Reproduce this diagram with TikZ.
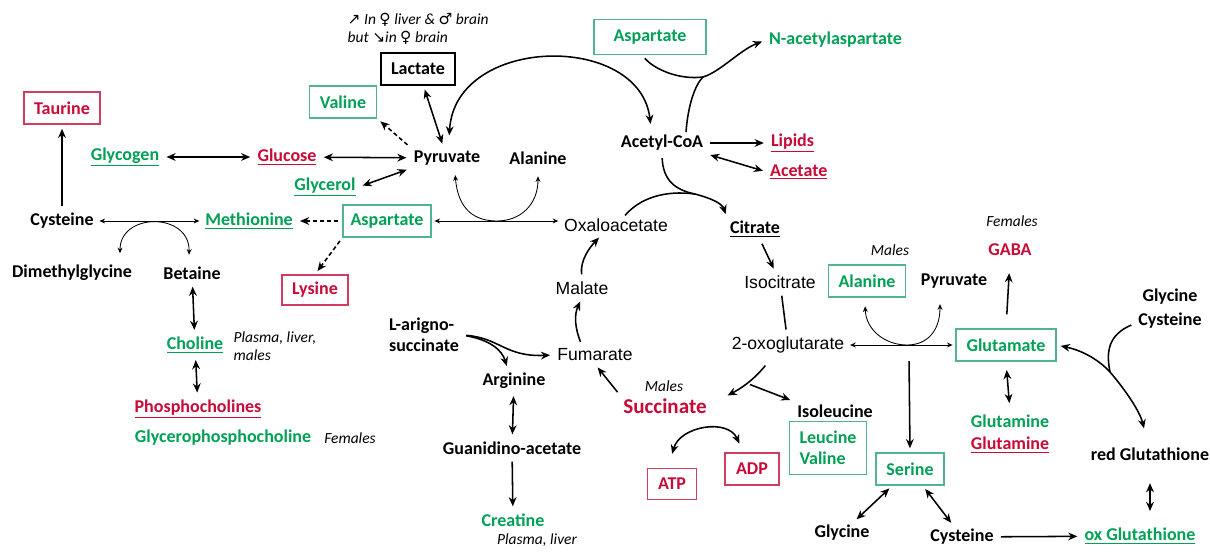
\documentclass[tikz,border=0pt]{standalone}
\usepackage{fontspec}
\setmainfont{Carlito}
\newfontfamily\arialf{Liberation Sans}
\newfontfamily\symf{DejaVu Sans}
\usetikzlibrary{arrows.meta,calc}

\definecolor{metgreen}{RGB}{0,160,85}
\definecolor{metred}{RGB}{200,10,55}
\definecolor{boxgreen}{RGB}{80,180,145}
\definecolor{boxred}{RGB}{210,60,95}

\tikzset{
    met/.style={font=\fontsize{12.8}{15}\selectfont\bfseries, inner sep=2pt},
    grn/.style={met, text=metgreen},
    rd/.style={met, text=metred},
    tca/.style={font=\arialf\fontsize{12.5}{14}\selectfont, inner sep=2pt},
    note/.style={font=\fontsize{11}{13}\selectfont\itshape, inner sep=1pt},
    gbox/.style={grn, draw=boxgreen, line width=0.8pt, minimum height=0.8cm},
    rbox/.style={rd, draw=boxred, line width=0.8pt, minimum height=0.8cm},
    flow/.style={line width=1.1pt, -{Stealth[length=6.5pt,width=5.5pt]}, shorten >=3pt, shorten <=3pt},
    dbl/.style={line width=1.1pt, {Stealth[length=6.5pt,width=5.5pt]}-{Stealth[length=6.5pt,width=5.5pt]}, shorten >=3pt, shorten <=3pt},
    fine/.style={line width=0.6pt, {Stealth[length=4pt,width=3.5pt]}-{Stealth[length=4pt,width=3.5pt]}, shorten >=2pt, shorten <=2pt},
    dflow/.style={flow, dash pattern=on 3pt off 2pt},
    link/.style={line width=1.1pt}
}

\begin{document}
\begin{tikzpicture}[x=0.025cm,y=-0.025cm]
    \useasboundingbox (0,0) rectangle (1210,552);

    % Left side
    \node[note, align=left, anchor=west] (sexnote) at (346,29) {{\symf ↗} In {\symf ♀} liver \& {\symf ♂} brain\\but {\symf ↘}in {\symf ♀} brain};
    \node[met, draw, line width=0.8pt, minimum width=1.85cm, minimum height=0.8cm] (lact) at (418,69) {Lactate};
    \node[gbox, minimum width=1.68cm] (val) at (343,102) {Valine};
    \node[rbox, minimum width=1.9cm] (taur) at (62,108) {Taurine};
    \node[grn] (glyc) at (125,157) {\underline{Glycogen}};
    \node[rd] (gluc) at (287,157) {\underline{Glucose}};
    \node[met] (pyr) at (447,158) {Pyruvate};
    \node[met] (ala) at (538,158) {Alanine};
    \node[grn] (glyl) at (325,187) {\underline{Glycerol}};
    \node[gbox, minimum width=2.2cm] (asp) at (387,221) {Aspartate};
    \node[grn] (meth) at (249,221) {\underline{Methionine}};
    \node[met] (cys) at (62,221) {Cysteine};
    \node[met] (dmg) at (72,273) {Dimethylglycine};
    \node[met] (bet) at (192,273) {Betaine};
    \node[rbox, minimum width=1.65cm, minimum height=0.75cm] (lys) at (315,290) {Lysine};
    \node[grn] (chol) at (195,345) {\underline{Choline}};
    \node[note, align=left, anchor=west] (cholnote) at (232,346) {Plasma, liver,\\males};
    \node[rd] (pc) at (198,409) {\underline{Phosphocholines}};
    \node[grn] (gpc) at (223,438) {Glycerophosphocholine};
    \node[note] (gpcnote) at (350,438) {Females};

    % Middle
    \node[gbox, minimum width=2.8cm, minimum height=0.875cm] (asp2) at (650,37) {Aspartate};
    \node[grn, anchor=west] (naa) at (766,40) {N-acetylaspartate};
    \node[met] (acoa) at (662,143) {Acetyl-CoA};
    \node[rd, anchor=west] (lip) at (768,143) {\underline{Lipids}};
    \node[rd, anchor=west] (acet) at (767,172) {\underline{Acetate}};
    \node[tca] (oaa) at (616,225) {Oxaloacetate};
    \node[met] (cit) at (755,229) {\underline{Citrate}};
    \node[tca] (icit) at (780,282) {Isocitrate};
    \node[tca] (ogl) at (788,345) {2-oxoglutarate};
    \node[tca] (mal) at (582,288) {Malate};
    \node[tca] (fum) at (595,355) {Fumarate};
    \node[met, align=left] (als) at (424,335) {L-arigno-\\succinate};
    \node[met] (arg) at (514,381) {Arginine};
    \node[met] (gaa) at (512,448) {Guanidino-acetate};
    \node[grn] (cre) at (513,520) {Creatine};
    \node[note] (crenote) at (537,540) {Plasma, liver};
    \node[note] (sucnote) at (664,386) {Males};
    \node[rd, font=\fontsize{15}{17}\selectfont\bfseries] (suc) at (665,406) {Succinate};
    \node[rbox, minimum width=1.22cm, minimum height=0.78cm] (atp) at (672,484) {ATP};
    \node[rbox, minimum width=1.35cm] (adp) at (752,469) {ADP};
    \node[met] (ile) at (835,411) {Isoleucine};
    \node[gbox, align=left, minimum width=1.92cm, minimum height=1.32cm] (lv) at (828,448) {Leucine\\Valine};

    % Right side
    \node[note] (alanote) at (890,250) {Males};
    \node[gbox, minimum width=1.92cm] (ala2) at (867,281) {Alanine};
    \node[met] (pyr2) at (954,281) {Pyruvate};
    \node[note] (gabanote) at (1012,221) {Females};
    \node[rd] (gaba) at (1010,250) {GABA};
    \node[gbox, minimum width=2.5cm] (glu) at (1006,345) {Glutamate};
    \node[grn] (gln) at (1010,421) {Glutamine};
    \node[rd] (gln2) at (1010,445) {\underline{Glutamine}};
    \node[met] (gly2) at (1170,297) {Glycine};
    \node[met] (cys2) at (1170,321) {Cysteine};
    \node[met] (rgsh) at (1150,454) {red Glutathione};
    \node[grn] (ogsh) at (1140,536) {\underline{ox Glutathione}};
    \node[gbox, minimum width=1.7cm] (ser) at (910,469) {Serine};
    \node[met] (gly3) at (842,533) {Glycine};
    \node[met] (cys3) at (962,537) {Cysteine};

    % Straight arrows
    \foreach \a/\b in {glyc/gluc, gluc/pyr, lact/pyr, bet/chol, chol/pc, arg/gaa, ser/gly3, ser/cys3} {
        \draw[dbl] (\a) -- (\b);
    }
    \foreach \a/\b in {cys/taur, acoa/lip, gaa/cre, cys3/ogsh, cit/icit} {
        \draw[flow] (\a) -- (\b);
    }
    \draw[dbl] (glyl.east) -- (pyr.south west);
    \draw[dflow] (pyr.north west) -- (val.south east);
    \draw[dbl] (acoa.south east) -- (acet.west);
    \draw[fine] (cys.east) -- (meth.west);
    \draw[dflow] (asp.west) -- (meth.east);
    \draw[dflow] (asp.south west) -- (lys.north);
    \draw[fine] (asp.east) -- (asp.east -| oaa.west);
    \draw[fine] (ogl.east) -- (glu.west);
    \draw[flow] (suc.north west) -- (fum.south);
    \draw[link, shorten <=3pt, shorten >=3pt] (icit) -- (ogl);
    \draw[flow, shorten <=10pt, shorten >=10pt] (glu.north) -- (gaba.south);
    \draw[dbl, shorten <=6pt, shorten >=6pt] (glu.south) -- (gln.north);
    \draw[dbl, shorten <=14pt, shorten >=10pt] (rgsh.south) -- (rgsh.south |- ogsh.north);

    % Pyruvate <-> Acetyl-CoA
    \draw[dbl] ($(pyr.north)+(2,-8)$) .. controls (455,35) and (640,32) .. ($(acoa.north)+(-11,-4)$);

    % N-acetylaspartate
    \coordinate (naaj) at (703,77);
    \draw[flow] ($(asp2.south)+(-8,0)$) .. controls (655,70) and (680,80) .. (naaj) .. controls (720,72) and (740,50) .. (naa.west);
    \draw[link] ($(acoa.north)+(24,0)$) .. controls (688,105) and (695,85) .. (naaj);

    % Citrate
    \coordinate (citj) at (695,194);
    \draw[flow] (acoa.south) .. controls (663,180) and (675,190) .. (citj) .. controls (710,198) and (722,203) .. (cit.north west);
    \draw[link] ($(oaa.north)+(9,0)$) .. controls (640,198) and (665,190) .. (citj);

    % Pyruvate / Alanine
    \coordinate (paj) at (497,221);
    \draw[fine] ($(pyr.south)+(8,4)$) .. controls (458,210) and (475,221) .. (paj) .. controls (520,221) and (538,205) .. ($(ala.south)+(0,6)$);

    % Dimethylglycine / Betaine
    \draw[fine] ($(dmg.north)+(48,-6)$) .. controls (120,212) and (190,212) .. ($(bet.north)+(-3,-6)$);

    % Krebs cycle
    \draw[flow] ($(fum.north)+(-13,0)$) .. controls (575,328) and (574,315) .. (mal.south);
    \draw[flow] (mal.north) .. controls (580,260) and (590,247) .. ($(oaa.south)+(-14,0)$);
    \draw[flow] ($(ogl.south)+(-20,6)$) .. controls (752,382) and (738,390) .. ($(suc.north east)+(14,2)$);
    \coordinate (oglj) at (746,383);
    \draw[flow] (oglj) -- (ile.north west);
    \draw[flow] (als.east) .. controls (500,338) and (505,357) .. (fum.west);
    \draw[flow] (als.east) .. controls (490,340) and (502,350) .. ($(arg.north)+(-6,0)$);

    % ATP / ADP
    \draw[dbl] ($(atp.north)+(-1,-10)$) .. controls (680,426) and (728,418) .. ($(adp.north)+(-11,-5)$);

    % Alanine / Pyruvate -> Glutamate
    \coordinate (gj) at (907,345);
    \draw[fine] ($(ala2.south)+(-2,6)$) .. controls (866,330) and (885,345) .. (gj) .. controls (928,345) and (940,330) .. ($(pyr2.south)+(-14,10)$);
    \draw[flow] ($(gj)+(2,12)$) -- (ser.north);

    % Glutathione
    \coordinate (gshj) at (1110,372);
    \draw[dbl] (glu.east) .. controls (1080,350) and (1097,358) .. (gshj) .. controls (1127,392) and (1140,412) .. ($(rgsh.north)+(-5,-12)$);
    \draw[link] ($(cys2.west)+(-4,4)$) .. controls (1108,335) and (1106,352) .. (gshj);
\end{tikzpicture}
\end{document}
